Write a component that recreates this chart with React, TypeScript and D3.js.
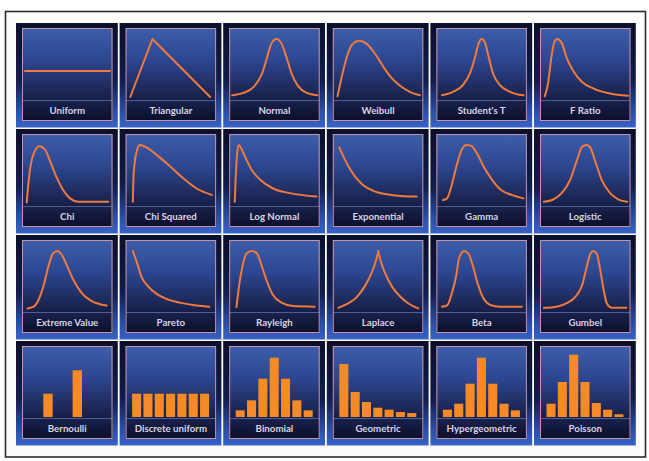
import React from "react";
import * as d3 from "d3";

type P = [number, number];

// ---- continuous curves (x: 0..100 across panel, y: 0 baseline .. 100 peak) ----
const uniformPts: P[] = [[0, 45], [100, 45]];
const triangularPts: P[] = [[2, 0], [28, 100], [96, 0]];
const normalPts: P[] = [[0, 3], [13, 7], [25, 17], [35, 40], [41, 68], [46, 92], [52, 100], [58, 92], [64, 68], [70, 40], [78, 18], [88, 7], [100, 3]];
const weibullPts: P[] = [[2, 1], [7, 35], [13, 69], [19, 90], [28, 97], [36, 92], [46, 75], [56, 52], [66, 32], [76, 19], [87, 9], [99, 3]];
const studentTPts: P[] = [[3, 3], [16, 9], [28, 21], [36, 41], [42, 69], [46, 92], [50, 100], [54, 92], [58, 69], [63, 41], [71, 21], [83, 9], [99, 3]];
const fRatioPts: P[] = [[2, 1], [6, 24], [10, 70], [14, 97], [17, 100], [22, 93], [28, 67], [36, 44], [46, 26], [59, 15], [79, 6], [100, 2]];
const chiPts: P[] = [[2, 1], [4, 34], [7, 68], [11, 88], [17, 98], [24, 91], [29, 74], [37, 45], [45, 22], [53, 8], [63, 2], [77, 2], [98, 2]];
const chiSquaredPts: P[] = [[5, 2], [5.5, 34], [7, 68], [10, 91], [13, 100], [21, 96], [33, 83], [49, 63], [64, 43], [80, 25], [98, 14]];
const logNormalPts: P[] = [[3, 2], [4, 40], [5.5, 80], [7.5, 100], [10, 96], [15, 80], [23, 57], [33, 40], [48, 25], [68, 17], [99, 11]];
const exponentialPts: P[] = [[4, 96], [9, 80], [15, 63], [23, 45], [32, 31], [44, 21], [60, 15], [76, 12], [95, 11]];
const gammaPts: P[] = [[4, 5], [9, 8], [14, 28], [20, 63], [26, 91], [32, 100], [38, 98], [44, 86], [52, 63], [62, 40], [73, 22], [85, 14], [99, 8]];
const logisticPts: P[] = [[1, 2], [12, 6], [22, 17], [32, 40], [40, 74], [46, 97], [51, 100], [55, 97], [61, 74], [69, 40], [79, 17], [89, 6], [99, 2]];
const extremeValuePts: P[] = [[3, 1], [10, 4], [16, 16], [22, 41], [28, 76], [33, 96], [38, 100], [43, 94], [49, 76], [57, 50], [67, 27], [78, 14], [96, 6]];
const paretoPts: P[] = [[5, 100], [10, 79], [15, 56], [23, 39], [33, 26], [45, 17], [60, 11], [76, 7], [95, 4]];
const rayleighPts: P[] = [[5, 3], [8, 39], [12, 73], [17, 96], [23, 100], [29, 96], [35, 73], [41, 47], [48, 24], [58, 11], [72, 5], [97, 4]];
const laplacePts: P[] = [[3, 2], [15, 10], [25, 21], [34, 39], [42, 62], [48, 87], [50, 100], [52, 87], [58, 62], [66, 39], [76, 21], [85, 10], [97, 1]];
const betaPts: P[] = [[3, 4], [9, 6], [14, 24], [20, 59], [23, 87], [29, 100], [34, 96], [39, 76], [45, 44], [52, 18], [60, 7], [71, 4], [97, 4]];
const gumbelPts: P[] = [[1, 2], [16, 4], [28, 10], [38, 21], [46, 41], [51, 70], [56, 96], [59, 100], [63, 96], [67, 70], [71, 36], [75, 10], [81, 2], [98, 2]];

// ---- discrete distributions (relative bar heights) ----
const bernoulliVals = [0.333, 0.667];
const discreteUniformVals = [0.333, 0.333, 0.333, 0.333, 0.333, 0.333, 0.333];
const binomialVals = [0.095, 0.238, 0.547, 0.847, 0.547, 0.238, 0.095];
const geometricVals = [0.757, 0.357, 0.214, 0.133, 0.104, 0.071, 0.057];
const hypergeometricVals = [0.104, 0.19, 0.476, 0.847, 0.476, 0.19, 0.095];
const poissonVals = [0.19, 0.5, 0.89, 0.5, 0.2, 0.104, 0.039];

const curveNames = [
  "Uniform", "Triangular", "Normal", "Weibull", "Student's T", "F Ratio",
  "Chi", "Chi Squared", "Log Normal", "Exponential", "Gamma", "Logistic",
  "Extreme Value", "Pareto", "Rayleigh", "Laplace", "Beta", "Gumbel",
];
const curveData: P[][] = [
  uniformPts, triangularPts, normalPts, weibullPts, studentTPts, fRatioPts,
  chiPts, chiSquaredPts, logNormalPts, exponentialPts, gammaPts, logisticPts,
  extremeValuePts, paretoPts, rayleighPts, laplacePts, betaPts, gumbelPts,
];
const barNames = ["Bernoulli", "Discrete uniform", "Binomial", "Geometric", "Hypergeometric", "Poisson"];
const barData: number[][] = [bernoulliVals, discreteUniformVals, binomialVals, geometricVals, hypergeometricVals, poissonVals];

const W = 649;
const H = 461;
const COL0 = 16, COLSTEP = 103.6, ROW0 = 23, ROWSTEP = 106;
const TILE_W = 101.8, TILE_H = 104.5;
const IN_DX = 6, IN_DY = 5, IN_W = 90.5, IN_H = 93, SEP = 72;
const CURVE = "#f07a3c";
const BAR = "#f68a26";

function Tile({ c, r, name, children }: { c: number; r: number; name: string; children?: React.ReactNode }) {
  const tx = COL0 + c * COLSTEP;
  const ty = ROW0 + r * ROWSTEP;
  const x0 = tx + IN_DX;
  const y0 = ty + IN_DY;
  return (
    <g>
      <rect x={tx} y={ty} width={TILE_W} height={TILE_H} fill="url(#tileGrad)" />
      <rect x={x0} y={y0} width={IN_W} height={SEP} fill="url(#plotGrad)" />
      <rect x={x0} y={y0 + SEP} width={IN_W} height={IN_H - SEP} fill="url(#labelGrad)" />
      <line x1={x0} x2={x0 + IN_W} y1={y0 + SEP + 0.5} y2={y0 + SEP + 0.5} stroke="#4f5d90" strokeWidth={1} />
      {children}
      <rect x={x0 + 0.5} y={y0 + 0.5} width={IN_W - 1} height={IN_H - 1} fill="none" stroke="#c893a6" strokeWidth={1} />
      <text
        x={x0 + IN_W / 2}
        y={y0 + SEP + (IN_H - SEP) / 2 + 0.5}
        dy="0.35em"
        textAnchor="middle"
        fontFamily="Lato, 'Open Sans', sans-serif"
        fontWeight="bold"
        fontSize={9.7}
        fill="#ddd2e2"
      >
        {name}
      </text>
    </g>
  );
}

function CurveTile({ i }: { i: number }) {
  const c = i % 6;
  const r = Math.floor(i / 6);
  const x0 = COL0 + c * COLSTEP + IN_DX;
  const y0 = ROW0 + r * ROWSTEP + IN_DY;
  const xs = d3.scaleLinear().domain([0, 100]).range([x0 + 3, x0 + 88]);
  const ys = d3.scaleLinear().domain([0, 100]).range([y0 + 69, y0 + 11]);
  const pts = curveData[i];
  const name = curveNames[i];
  const line = d3.line<P>().x((d) => xs(d[0])).y((d) => ys(d[1]));
  let paths: string[] = [];
  if (name === "Triangular" || name === "Uniform") {
    paths = [line.curve(d3.curveLinear)(pts) || ""];
  } else if (name === "Laplace") {
    const k = d3.maxIndex(pts, (d) => d[1]);
    const lm = line.curve(d3.curveMonotoneX);
    paths = [lm(pts.slice(0, k + 1)) || "", lm(pts.slice(k)) || ""];
  } else {
    paths = [line.curve(d3.curveMonotoneX)(pts) || ""];
  }
  return (
    <Tile c={c} r={r} name={name}>
      {paths.map((p, j) => (
        <path key={j} d={p} fill="none" stroke={CURVE} strokeWidth={2} strokeLinejoin="round" strokeLinecap="round" />
      ))}
    </Tile>
  );
}

function BarTile({ i }: { i: number }) {
  const c = i;
  const r = 3;
  const x0 = COL0 + c * COLSTEP + IN_DX;
  const y0 = ROW0 + r * ROWSTEP + IN_DY;
  const vals = barData[i];
  const base = y0 + 71;
  const ys = d3.scaleLinear().domain([0, 1]).range([base, base - 70]);
  const xs =
    vals.length === 2
      ? d3.scaleBand<number>().domain(d3.range(vals.length)).range([x0 + 21.3, x0 + 60]).paddingInner(0.68).paddingOuter(0)
      : d3.scaleBand<number>().domain(d3.range(vals.length)).range([x0 + 6.5, x0 + 83.5]).paddingInner(0.2).paddingOuter(0);
  return (
    <Tile c={c} r={r} name={barNames[i]}>
      {vals.map((v, j) => (
        <rect key={j} x={xs(j)} y={ys(v)} width={xs.bandwidth()} height={base - ys(v)} fill={BAR} />
      ))}
    </Tile>
  );
}

export default function App() {
  return (
    <svg width={W} height={H} style={{ position: "absolute", left: 0, top: 0, display: "block" }}>
      <defs>
        <linearGradient id="tileGrad" x1="0" y1="0" x2="0" y2="1">
          <stop offset="0%" stopColor="#0a0f2a" />
          <stop offset="55%" stopColor="#101c4c" />
          <stop offset="85%" stopColor="#2a4ea8" />
          <stop offset="100%" stopColor="#3763c6" />
        </linearGradient>
        <linearGradient id="plotGrad" x1="0" y1="0" x2="0" y2="1">
          <stop offset="0%" stopColor="#3d5eab" />
          <stop offset="45%" stopColor="#2d4690" />
          <stop offset="100%" stopColor="#161e46" />
        </linearGradient>
        <linearGradient id="labelGrad" x1="0" y1="0" x2="0" y2="1">
          <stop offset="0%" stopColor="#1a2350" />
          <stop offset="100%" stopColor="#0a0e28" />
        </linearGradient>
      </defs>
      <rect x={0} y={0} width={W} height={H} fill="#ffffff" />
      <rect x={5.5} y={11.5} width={640} height={445.5} fill="#fefcfb" stroke="#2b2b2b" strokeWidth={1.6} />
      {curveNames.map((_, i) => (
        <CurveTile key={i} i={i} />
      ))}
      {barNames.map((_, i) => (
        <BarTile key={i} i={i} />
      ))}
    </svg>
  );
}
